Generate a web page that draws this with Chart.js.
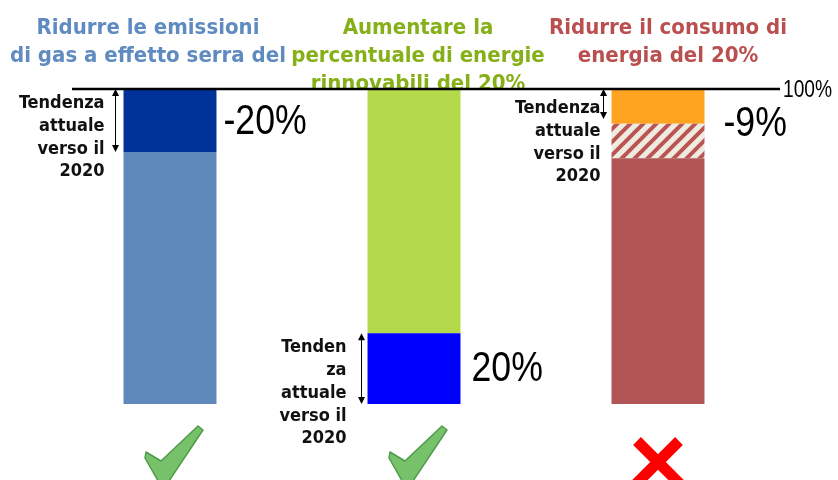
<!DOCTYPE html>
<html>
<head>
<meta charset="utf-8">
<script src="https://cdn.jsdelivr.net/npm/chart.js@4.4.0/dist/chart.umd.min.js"></script>
<style>
html, body { margin: 0; padding: 0; background: #fff; }
#wrap { width: 838px; height: 480px; position: relative; }
</style>
</head>
<body>
<div id="wrap"><canvas id="myChart"></canvas></div>
<script>
const categories = ['Emissioni', 'Rinnovabili', 'Consumo'];
const baseValues = [80, 22.5, 78];
const gapValues = [0, 0, 11];
const topValues = [20, 77.5, 11];
const pctLabels = ['-20%', '20%', '-9%'];
const pctAt = [90, 11.5, 89.5];
const arrowRanges = [[80, 100], [0, 22.5], [90.5, 100]];
const titles = [
	['Ridurre le emissioni', 'di gas a effetto serra del'],
	['Aumentare la', 'percentuale di energie', 'rinnovabili del 20%'],
	['Ridurre il consumo di', 'energia del 20%']
];
const trendLabels = [
	['Tendenza', 'attuale', 'verso il', '2020'],
	['Tenden', 'za', 'attuale', 'verso il', '2020'],
	['Tendenza', 'attuale', 'verso il', '2020']
];
const results = ['ok', 'ok', 'no'];

const titleColors = ['#5f8bc1', '#86b017', '#b9504f'];
const titleShift = [-22, 4, 10];
const trendGap = [19, 21, 11];
const arrowGap = [8, 6, 8];
const trendTop = [19, 19, 24];
const pctGap = [7, 11, 19];

// hatched stripes for the missing part of the third bar
function makeHatch(){
	const c = document.createElement('canvas');
	c.width = 13; c.height = 13;
	const g = c.getContext('2d');
	g.fillStyle = '#eeebe0';
	g.fillRect(0, 0, 13, 13);
	g.strokeStyle = '#bb5553';
	g.lineWidth = 4;
	g.beginPath();
	g.moveTo(-3, 16); g.lineTo(16, -3);
	g.moveTo(-10, 10); g.lineTo(10, -10);
	g.moveTo(3, 23); g.lineTo(23, 3);
	g.stroke();
	return g.createPattern(c, 'repeat');
}

// narrow text: squeeze the normal glyphs horizontally
function narrowText(ctx, t, x, y, k){
	ctx.fillText(t, x, y, ctx.measureText(t).width * k);
}

function arrow(ctx, x, y1, y2){
	ctx.save();
	ctx.strokeStyle = '#000';
	ctx.fillStyle = '#000';
	ctx.lineWidth = 1;
	ctx.beginPath();
	ctx.moveTo(x, y1 + 4); ctx.lineTo(x, y2 - 4);
	ctx.stroke();
	ctx.beginPath();
	ctx.moveTo(x, y1); ctx.lineTo(x - 3.5, y1 + 7); ctx.lineTo(x + 3.5, y1 + 7); ctx.closePath();
	ctx.moveTo(x, y2); ctx.lineTo(x - 3.5, y2 - 7); ctx.lineTo(x + 3.5, y2 - 7); ctx.closePath();
	ctx.fill();
	ctx.restore();
}

function checkMark(ctx, cx){
	const pts = [[-24, 452], [-9, 461], [28, 426], [33, 430], [-3, 484], [-9, 486], [-25, 458]];
	ctx.save();
	ctx.beginPath();
	pts.forEach((p, i) => i ? ctx.lineTo(cx + p[0], p[1]) : ctx.moveTo(cx + p[0], p[1]));
	ctx.closePath();
	ctx.fillStyle = '#77c16b';
	ctx.fill();
	ctx.strokeStyle = '#4f9b4b';
	ctx.lineWidth = 1.5;
	ctx.lineJoin = 'round';
	ctx.stroke();
	ctx.restore();
}

function crossMark(ctx, cx){
	ctx.save();
	ctx.strokeStyle = '#ff0000';
	ctx.lineWidth = 11;
	ctx.beginPath();
	ctx.moveTo(cx - 21, 441); ctx.lineTo(cx + 22, 484);
	ctx.moveTo(cx + 21, 441); ctx.lineTo(cx - 22, 484);
	ctx.stroke();
	ctx.restore();
}

const decorPlugin = {
	id: 'decor',
	afterDatasetsDraw(chart){
		const ctx = chart.ctx;
		const y = chart.scales.y;
		const area = chart.chartArea;
		const bars = chart.getDatasetMeta(0).data;
		ctx.save();

		// titles
		ctx.textAlign = 'center';
		ctx.textBaseline = 'alphabetic';
		ctx.font = 'bold 22px "DejaVu Sans Condensed", "DejaVu Sans", sans-serif';
		titles.forEach((lines, i) => {
			ctx.fillStyle = titleColors[i];
			lines.forEach((t, j) => ctx.fillText(t, bars[i].x + titleShift[i], 34 + j * 28));
		});

		// 100% line
		const top = y.getPixelForValue(100);
		ctx.strokeStyle = '#000';
		ctx.lineWidth = 2.5;
		ctx.beginPath();
		ctx.moveTo(area.left + 24, top);
		ctx.lineTo(area.right, top);
		ctx.stroke();
		ctx.fillStyle = '#000';
		ctx.textAlign = 'left';
		ctx.font = '24px "Liberation Sans", sans-serif';
		narrowText(ctx, '100%', area.right + 3, top + 8, 0.8);

		bars.forEach((b, i) => {
			const left = b.x - b.width / 2;
			const right = b.x + b.width / 2;
			const r = arrowRanges[i];
			const yTop = y.getPixelForValue(r[1]);
			arrow(ctx, left - arrowGap[i], yTop, y.getPixelForValue(r[0]));

			ctx.fillStyle = '#111';
			ctx.textAlign = 'right';
			ctx.font = 'bold 18px "DejaVu Sans Condensed", "DejaVu Sans", sans-serif';
			trendLabels[i].forEach((t, j) => ctx.fillText(t, left - trendGap[i], yTop + trendTop[i] + j * 22.8));

			ctx.fillStyle = '#000';
			ctx.textAlign = 'left';
			ctx.textBaseline = 'middle';
			ctx.font = '42px "Liberation Sans", sans-serif';
			narrowText(ctx, pctLabels[i], right + pctGap[i], y.getPixelForValue(pctAt[i]) + 2, 0.85);
			ctx.textBaseline = 'alphabetic';

			if(results[i] === 'ok') checkMark(ctx, b.x);
			else crossMark(ctx, b.x);
		});
		ctx.restore();
	}
};

const ctx = document.getElementById('myChart').getContext('2d');
const myChart = new Chart(ctx, {
	type: 'bar',
	data: {
		labels: categories,
		datasets: [
			{ data: baseValues, backgroundColor: ['#5f89ba', '#0000ff', '#b15654'] },
			{ data: gapValues, backgroundColor: makeHatch() },
			{ data: topValues, backgroundColor: ['#00339a', '#b4d94b', '#ffa420'] }
		]
	},
	options: {
		responsive: true,
		maintainAspectRatio: false,
		animation: false,
		events: [],
		layout: { padding: { top: 89, bottom: 76, left: 48, right: 58 } },
		datasets: { bar: { barPercentage: 0.381, categoryPercentage: 1, borderWidth: 0 } },
		plugins: { legend: { display: false }, tooltip: { enabled: false } },
		scales: {
			x: { stacked: true, display: false },
			y: { stacked: true, display: false, min: 0, max: 100 }
		}
	},
	plugins: [decorPlugin]
});
</script>
</body>
</html>
